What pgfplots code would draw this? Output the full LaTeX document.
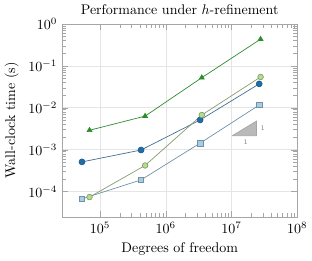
\documentclass[border=0pt]{standalone}
\usepackage{pgfplots}
\pgfplotsset{compat=1.18}
\definecolor{dgreen}{RGB}{44,140,44}
\definecolor{dblue}{RGB}{31,110,170}
\definecolor{bline}{RGB}{70,110,145}
\definecolor{lgreen}{RGB}{178,223,138}
\definecolor{gline}{RGB}{135,155,110}
\definecolor{lblue}{RGB}{166,206,227}
\definecolor{sline}{RGB}{115,145,165}
\begin{document}
\begin{tikzpicture}
\begin{axis}[
  scale only axis, width=168pt, height=138pt,
  xmode=log, ymode=log,
  xmin=2.65e4, xmax=1e8, ymin=2.5e-5, ymax=1,
  title={Performance under $h$-refinement},
  xlabel={Degrees of freedom},
  ylabel={Wall-clock time (s)},
  grid=major, major grid style={gray!20, line width=0.3pt},
  axis line style={gray!70},
  tick style={gray!70},
  xtick={1e5,1e6,1e7,1e8},
  ytick={1e-4,1e-3,1e-2,1e-1,1},
  every axis plot/.append style={line width=0.5pt},
  every axis title/.style={at={(0.5,1)},anchor=south,yshift=3pt},
]
\addplot[dgreen, mark=triangle*, mark size=2pt, mark options={fill=dgreen}] coordinates {
 (6.9e4,2.9e-3) (4.84e5,6.3e-3) (3.53e6,0.052) (2.77e7,0.43)};
\addplot[bline, mark=*, mark size=2.1pt, mark options={fill=dblue, draw=dblue!85!black}] coordinates {
 (5.3e4,5.1e-4) (4.2e5,9.8e-4) (3.33e6,5.1e-3) (2.64e7,0.037)};
\addplot[gline, mark=*, mark size=2pt, mark options={fill=lgreen, draw=gline}] coordinates {
 (6.9e4,7.4e-5) (4.84e5,4.2e-4) (3.53e6,6.7e-3) (2.77e7,0.054)};
\addplot[sline, mark=square*, mark size=2pt, mark options={fill=lblue, draw=sline}] coordinates {
 (5.3e4,6.7e-5) (4.2e5,1.9e-4) (3.33e6,1.43e-3) (2.64e7,0.0116)};
\addplot[fill=gray!55, draw=gray!70, forget plot] coordinates {
 (1.03e7,2.15e-3) (2.4e7,2.15e-3) (2.4e7,4.8e-3) (1.03e7,2.15e-3)};
\node[font=\tiny, text=gray] at (axis cs:3.0e7,3.3e-3) {1};
\node[font=\tiny, text=gray] at (axis cs:1.65e7,1.5e-3) {1};
\end{axis}
\end{tikzpicture}
\end{document}
